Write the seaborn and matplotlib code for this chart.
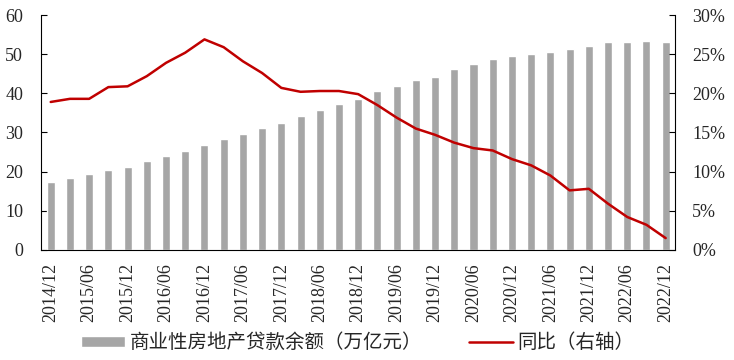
import numpy as np
import pandas as pd
import seaborn as sns
import matplotlib.pyplot as plt
from matplotlib.ticker import FuncFormatter

# quarterly periods 2014/12 .. 2022/12
periods = ["2014/12", "2015/03", "2015/06", "2015/09", "2015/12",
           "2016/03", "2016/06", "2016/09", "2016/12",
           "2017/03", "2017/06", "2017/09", "2017/12",
           "2018/03", "2018/06", "2018/09", "2018/12",
           "2019/03", "2019/06", "2019/09", "2019/12",
           "2020/03", "2020/06", "2020/09", "2020/12",
           "2021/03", "2021/06", "2021/09", "2021/12",
           "2022/03", "2022/06", "2022/09", "2022/12"]

# 商业性房地产贷款余额 (万亿元)
balance = [17.4, 18.4, 19.3, 20.3, 21.1, 22.6, 23.9, 25.3, 26.7,
           28.4, 29.7, 31.1, 32.3, 34.1, 35.8, 37.4, 38.6,
           40.5, 41.9, 43.4, 44.3, 46.2, 47.4, 48.7, 49.5,
           50.0, 50.7, 51.3, 52.2, 53.1, 53.1, 53.3, 53.2]

# 同比 (%)
yoy = [18.9, 19.3, 19.3, 20.8, 20.9, 22.2, 23.9, 25.2, 26.9,
       25.9, 24.1, 22.6, 20.7, 20.2, 20.3, 20.3, 19.9,
       18.5, 16.9, 15.5, 14.7, 13.7, 13.0, 12.7, 11.6,
       10.8, 9.5, 7.6, 7.8, 5.9, 4.2, 3.2, 1.5]

bar_label = "商业性房地产贷款余额（万亿元）"
line_label = "同比（右轴）"

sns.set_style("white")
plt.rcParams['font.family'] = ['Liberation Serif', 'Noto Sans CJK SC']

df = pd.DataFrame({"period": periods, "balance": balance, "yoy": yoy})
df["idx"] = np.arange(len(df))

fig = plt.figure(figsize=(7.34, 3.6), dpi=100)
ax = fig.add_axes([0.056, 0.306, 0.864, 0.652])

sns.barplot(data=df, x="period", y="balance", color="#A6A6A6", width=0.42,
            saturation=1, ax=ax, label=bar_label)
if ax.get_legend() is not None:
    ax.get_legend().remove()
ax.set_xlim(-0.5, len(df) - 0.5)
ax.set_ylim(0, 60)
ax.set_yticks(range(0, 61, 10))

ax2 = ax.twinx()
sns.lineplot(data=df, x="idx", y="yoy", color="#C00000", linewidth=1.8,
             ax=ax2, label=line_label, legend=False)
ax2.set_ylim(0, 30)
ax2.set_yticks(range(0, 31, 5))
ax2.yaxis.set_major_formatter(FuncFormatter(lambda v, p: f"{int(v)}%"))
ax2.set_xlim(-0.5, len(df) - 0.5)

# x ticks: labels every half-year, small tick marks between categories
ax.set_xticks(range(0, len(df), 2))
ax.set_xticklabels(periods[::2], rotation=90)
ax.set_xticks(np.arange(-0.5, len(df), 1), minor=True)
ax.tick_params(axis="x", which="major", length=0, pad=9.5, labelsize=13)
ax.tick_params(axis="x", which="minor", length=4, width=0.8, direction="out", color="black")
ax.tick_params(axis="y", length=4, width=0.8, direction="in", pad=13, labelsize=13, color="black")
ax2.tick_params(axis="y", length=4, width=0.8, direction="in", pad=12, labelsize=13, color="black")

ax.set_xlabel("")
ax.set_ylabel("")
ax2.set_xlabel("")
ax2.set_ylabel("")

for a in (ax, ax2):
    a.spines["top"].set_visible(False)
    for s in ("left", "right", "bottom"):
        a.spines[s].set_color("black")
        a.spines[s].set_linewidth(0.8)
ax.spines["right"].set_visible(False)
ax2.spines["left"].set_visible(False)
ax2.spines["bottom"].set_visible(False)

h1, l1 = ax.get_legend_handles_labels()
h2, l2 = ax2.get_legend_handles_labels()
fig.legend(h1 + h2, l1 + l2, loc="center", bbox_to_anchor=(0.487, 0.047),
           ncol=2, frameon=False, fontsize=14, handlelength=2.3,
           handleheight=0.55, columnspacing=2.4, handletextpad=0.2)

fig.savefig("out.png", dpi=100)
